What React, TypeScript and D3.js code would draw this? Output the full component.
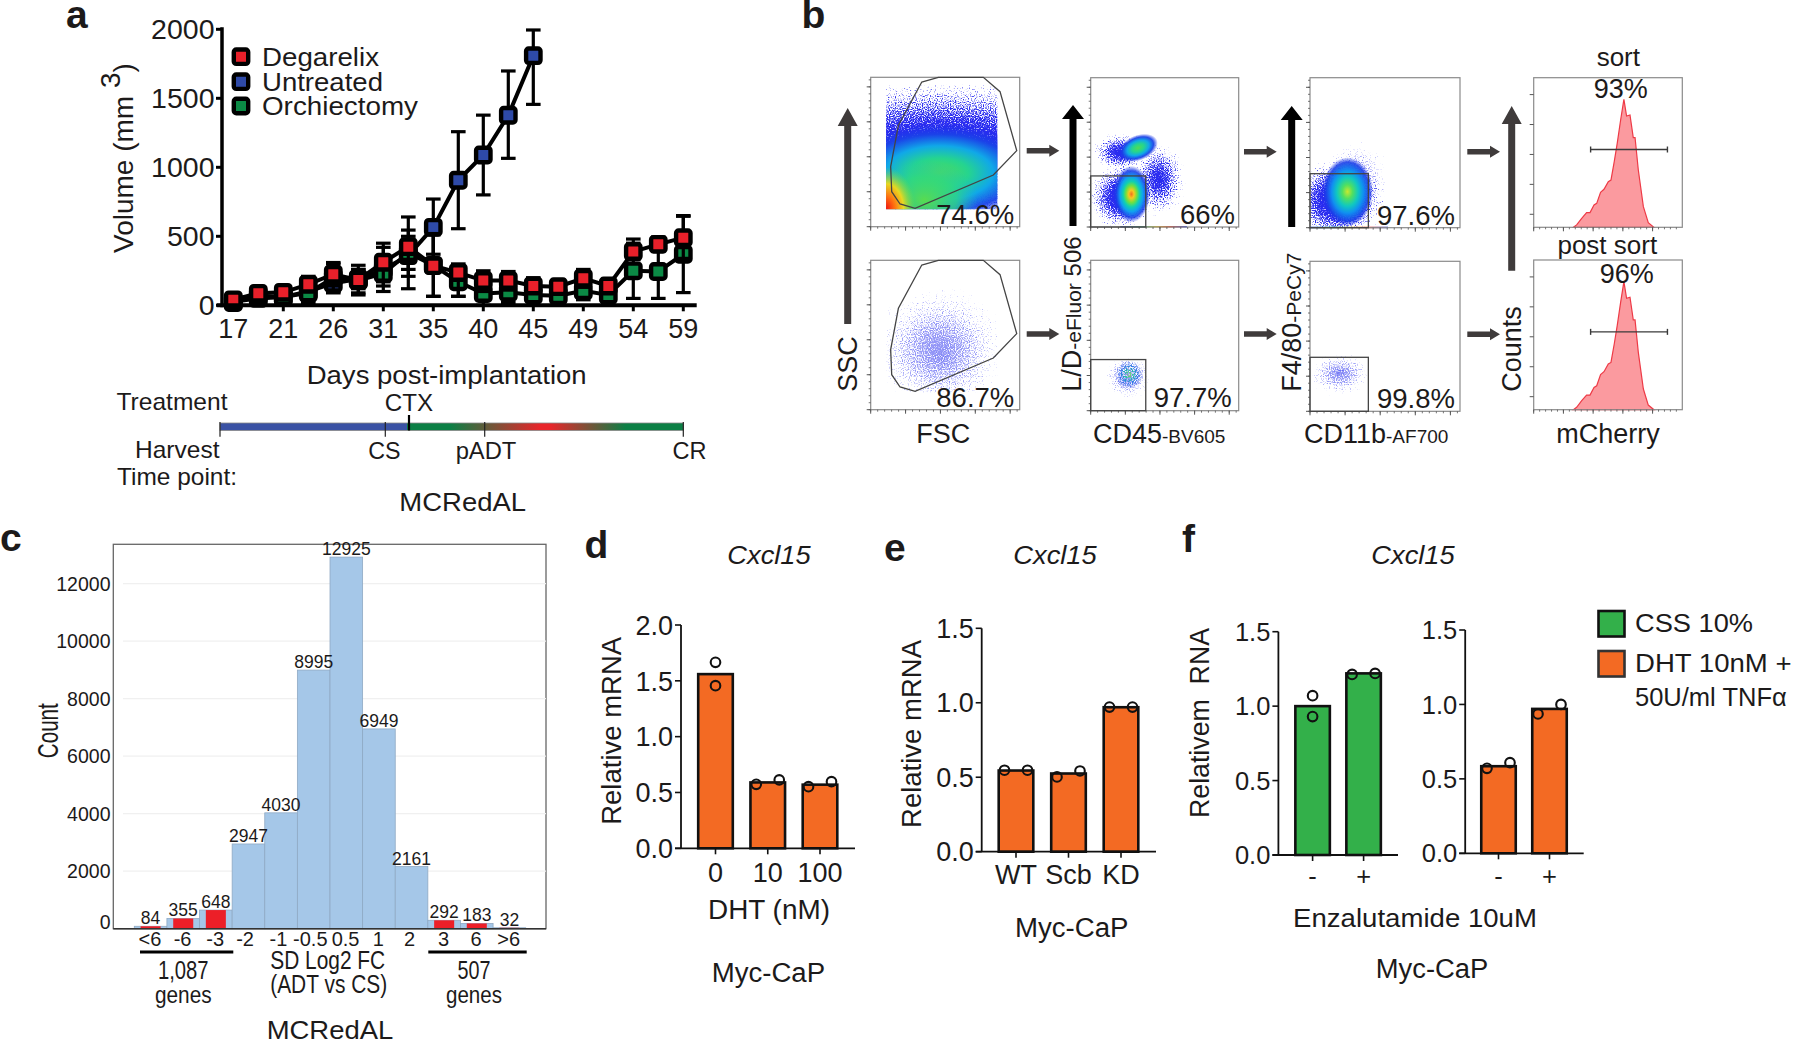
import React from "react";
import * as d3 from "d3";

// ---------- panel a data ----------
const days = [17, 19, 21, 24, 26, 28, 31, 33, 35, 38, 40, 43, 45, 47, 49, 52, 54, 57, 59];
const dayLabels = [17, 21, 26, 31, 35, 40, 45, 49, 54, 59];
const degarelix = [40, 87, 94, 152, 225, 184, 312, 425, 287, 237, 179, 179, 140, 135, 196, 140, 389, 442, 490];
const degarelixLo = [10, 50, 55, 100, 140, 75, 170, 210, 65, 65, 100, 110, 90, 90, 130, 95, 330, 390, 340];
const degarelixHi = [75, 125, 135, 210, 310, 290, 450, 640, 520, 300, 250, 245, 200, 185, 260, 190, 480, 495, 645];
const untreated = [25, 50, 60, 100, 160, 190, 260, 360, 565, 906, 1089, 1377, 1809];
const untreatedLo = [5, 20, 30, 60, 90, 120, 100, 120, 370, 555, 800, 1065, 1456];
const untreatedHi = [50, 80, 90, 140, 230, 260, 420, 545, 770, 1258, 1378, 1698, 1995];
const orchiectomy = [20, 70, 60, 90, 200, 180, 230, 380, 290, 170, 85, 95, 75, 70, 105, 75, 250, 245, 370];
const orchiectomyLo = [0, 40, 0, 20, 100, 90, 140, 260, 65, 65, 0, 20, 0, 0, 40, 20, 50, 50, 92];
const orchiectomyHi = [50, 100, 110, 170, 300, 260, 360, 500, 510, 275, 170, 170, 150, 140, 170, 130, 450, 440, 650];
const volumeTicks = [0, 500, 1000, 1500, 2000];
const legendA = ["Degarelix", "Untreated", "Orchiectomy"];

// ---------- panel b data (axis units 0-100) ----------
const fscGateU = [34.2, 45.4, 75.6, 86.8, 98, 82.3, 29.8, 19.7, 14.1, 13.4, 18.6];
const fscGateV = [96.7, 100, 100, 90.4, 50.9, 34.6, 12.3, 15.2, 23.4, 40.2, 68];
const mcherryBins = [26.7, 28.9, 32.3, 35.6, 37.9, 40.6, 42.4, 45, 47.3, 50.2, 52, 54.2, 56.2, 58.5, 60.7, 62.5, 64.8, 67, 68.2, 70.4, 73.8, 77.1, 80.9];
const mcherryCounts = [0, 1.6, 6, 9.8, 9.8, 14.9, 16, 23.4, 25.4, 30.5, 31.6, 43.9, 56.1, 71.7, 85.5, 74.4, 75.1, 60, 60, 38.3, 13.8, 3.1, 0];

type Blob = { u: number; v: number; rx: number; ry: number; rot: number; kind: string; d: number };
const blobsFsc1: Blob[] = [
  { u: 47, v: 50, rx: 170, ry: 62, rot: 0, kind: "speck", d: 1 },
  { u: 46, v: 36, rx: 66, ry: 33, rot: 0, kind: "green", d: 1 },
  { u: 36, v: 18, rx: 36, ry: 26, rot: 0, kind: "greenSoft", d: 1 },
  { u: 10, v: 12, rx: 20, ry: 28, rot: 0, kind: "corner", d: 1 },
];
const blobsFsc2: Blob[] = [
  { u: 46, v: 40, rx: 62, ry: 58, rot: 0, kind: "thin", d: 0.72 },
  { u: 48, v: 34, rx: 22, ry: 20, rot: 0, kind: "thin", d: 0.4 },
];
const blobsCd1: Blob[] = [
  { u: 46, v: 32, rx: 24, ry: 34, rot: 0, kind: "speck", d: 0.8 },
  { u: 20, v: 50, rx: 25, ry: 17, rot: 0, kind: "speck", d: 0.85 },
  { u: 20, v: 20, rx: 28, ry: 28, rot: 0, kind: "speck", d: 0.95 },
  { u: 32, v: 53, rx: 14, ry: 8.5, rot: -22, kind: "green", d: 1 },
  { u: 27.5, v: 22, rx: 12.5, ry: 19, rot: 0, kind: "hot", d: 1 },
];
const blobsCd2: Blob[] = [
  { u: 25, v: 22, rx: 22, ry: 20, rot: 0, kind: "thin", d: 0.72 },
  { u: 26, v: 24, rx: 9, ry: 9, rot: -30, kind: "warmSoft", d: 1 },
];
const blobsF41: Blob[] = [
  { u: 30, v: 30, rx: 30, ry: 36, rot: 0, kind: "thin", d: 0.75 },
  { u: 18, v: 18, rx: 40, ry: 34, rot: 0, kind: "speck", d: 1 },
  { u: 25, v: 24, rx: 17, ry: 23, rot: 0, kind: "warm", d: 1 },
];
const blobsF42: Blob[] = [
  { u: 20, v: 25, rx: 28, ry: 19, rot: 0, kind: "thin", d: 0.72 },
  { u: 20, v: 26, rx: 9, ry: 5, rot: 0, kind: "thin", d: 0.55 },
];

// ---------- panel c data ----------
const fcLabels = ["<6", "-6", "-3", "-2", "-1", "-0.5", "0.5", "1", "2", "3", "6", ">6"];
const fcCounts = [84, 355, 648, 2947, 4030, 8995, 12925, 6949, 2161, 292, 183, 32];
const fcHighlighted = ["<6", "-6", "-3", "3", "6", ">6"];
const countTicks = [0, 2000, 4000, 6000, 8000, 10000, 12000];

// ---------- panels d-f data ----------
const dhtLabels = ["0", "10", "100"];
const dhtMeans = [1.56, 0.59, 0.57];
const dhtDotsA = [1.666, 0.573, 0.552];
const dhtDotsB = [1.457, 0.612, 0.597];
const dTicks = [0, 0.5, 1, 1.5, 2];
const kdLabels = ["WT", "Scb", "KD"];
const kdMeans = [0.545, 0.525, 0.97];
const kdDotsA = [0.547, 0.502, 0.971];
const kdDotsB = [0.547, 0.542, 0.971];
const rnaTicks = [0, 0.5, 1, 1.5];
const enzLabels = ["-", "+"];
const cssMeans = [1.0, 1.22];
const cssDotsA = [1.07, 1.213];
const cssDotsB = [0.93, 1.22];
const dhtTnfMeans = [0.585, 0.97];
const dhtTnfDotsA = [0.571, 0.936];
const dhtTnfDotsB = [0.609, 1.0];

const FONT = "'Liberation Sans', Arial, sans-serif";
const INK = "#1c1a1a";
const RED = "#e8202a";
const BLUE = "#2e4aa8";
const GREEN = "#0b8a45";
const ORANGE = "#f36a23";
const CSS_GREEN = "#33b04a";
const ARROW = "#3f3b3b";

function T({ x, y, fs, anchor = "start", w, weight, italic, rot, fill = INK, children }: any) {
  return (
    <text
      x={x}
      y={y}
      fontSize={fs}
      fontFamily={FONT}
      textAnchor={anchor}
      fontWeight={weight}
      fontStyle={italic ? "italic" : undefined}
      fill={fill}
      textLength={w}
      lengthAdjust={w ? "spacingAndGlyphs" : undefined}
      transform={rot ? `rotate(${rot} ${x} ${y})` : undefined}
    >
      {children}
    </text>
  );
}

function LineSeries({ x, y, n, vals, lo, hi, color }: any) {
  const line = d3.line<number>().x((_, i) => x(i)!).y((v) => y(v));
  const cap = 7.3;
  return (
    <g>
      {d3.range(n).map((i) => (
        <g key={i} stroke="#000" strokeWidth={3.2} fill="none">
          <line x1={x(i)} x2={x(i)} y1={y(lo[i])} y2={y(hi[i])} />
          <line x1={x(i)! - cap} x2={x(i)! + cap} y1={y(lo[i])} y2={y(lo[i])} />
          <line x1={x(i)! - cap} x2={x(i)! + cap} y1={y(hi[i])} y2={y(hi[i])} />
        </g>
      ))}
      <path d={line(vals)!} fill="none" stroke="#000" strokeWidth={4} />
      {vals.map((v: number, i: number) => (
        <rect key={i} x={x(i)! - 7.2} y={y(v) - 7.2} width={14.4} height={14.4} rx={2.5} fill={color} stroke="#000" strokeWidth={4.4} />
      ))}
    </g>
  );
}

function PanelA() {
  const x = d3.scalePoint<number>().domain(d3.range(days.length)).range([233.3, 683.3]);
  const y = d3.scaleLinear().domain([0, 2000]).range([305.3, 29.3]);
  const legendColors = [RED, BLUE, GREEN];
  const legendY = [56.7, 81.7, 106];
  const legendBase = [65.7, 90.7, 115];
  const legendW = [117, 121, 156];
  const barX = d3.scaleLinear().domain([0, 1]).range([220, 683.3]);
  return (
    <g>
      <T x={66} y={28} fs={39} weight="bold">a</T>
      <LineSeries x={x} y={y} n={untreated.length} vals={untreated} lo={untreatedLo} hi={untreatedHi} color={BLUE} />
      <LineSeries x={x} y={y} n={days.length} vals={orchiectomy} lo={orchiectomyLo} hi={orchiectomyHi} color={GREEN} />
      <LineSeries x={x} y={y} n={days.length} vals={degarelix} lo={degarelixLo} hi={degarelixHi} color={RED} />
      <line x1={222} x2={222} y1={y(2000) - 2} y2={y(0) + 2} stroke="#000" strokeWidth={3.5} />
      <line x1={216.7} x2={696.7} y1={y(0)} y2={y(0)} stroke="#000" strokeWidth={4} />
      {volumeTicks.map((t) => (
        <g key={t}>
          <line x1={216} x2={222} y1={y(t)} y2={y(t)} stroke="#000" strokeWidth={3} />
          <T x={214.5} y={y(t) + 9.5} fs={28.5} anchor="end">{t}</T>
        </g>
      ))}
      {dayLabels.map((d) => {
        const i = days.indexOf(d);
        return (
          <g key={d}>
            <line x1={x(i)} x2={x(i)} y1={y(0)} y2={y(0) + 6} stroke="#000" strokeWidth={3} />
            <T x={x(i)} y={338.3} fs={27} anchor="middle">{d}</T>
          </g>
        );
      })}
      <text transform="translate(133 253) rotate(-90)" fontFamily={FONT} fontSize={28} fill={INK}>
        Volume (mm<tspan dy={-13} fontSize={28}> 3</tspan><tspan dy={13}>)</tspan>
      </text>
      {legendA.map((s, i) => (
        <g key={s}>
          <rect x={241 - 7.2} y={legendY[i] - 7.2} width={14.4} height={14.4} rx={2.5} fill={legendColors[i]} stroke="#000" strokeWidth={4.4} />
          <T x={262} y={legendBase[i]} fs={26} w={legendW[i]}>{s}</T>
        </g>
      ))}
      <T x={446.7} y={384.3} fs={25} anchor="middle" w={280}>Days post-implantation</T>
      <T x={116.5} y={410} fs={24} w={111}>Treatment</T>
      <T x={409} y={411} fs={24} anchor="middle" w={48.3}>CTX</T>
      <defs>
        <linearGradient id="txGrad" x1="0" x2="1" y1="0" y2="0">
          <stop offset={barX.invert(407.3)} stopColor="#3a52a4" />
          <stop offset={barX.invert(407.4)} stopColor="#0b7f45" />
          <stop offset={barX.invert(450)} stopColor="#0b7f45" />
          <stop offset={barX.invert(540)} stopColor="#e8252a" />
          <stop offset={barX.invert(550)} stopColor="#e8252a" />
          <stop offset={barX.invert(626)} stopColor="#0b7f45" />
          <stop offset={1} stopColor="#0b7f45" />
        </linearGradient>
      </defs>
      <rect x={220} y={423} width={463.3} height={7.5} fill="url(#txGrad)" stroke="#888" strokeWidth={0.8} />
      {[220, 385.3, 484.7, 683.3].map((v) => (
        <line key={v} x1={v} x2={v} y1={422} y2={436.7} stroke="#222" strokeWidth={1.2} />
      ))}
      <line x1={409} x2={409} y1={415} y2={430.5} stroke="#000" strokeWidth={2.2} />
      <T x={135} y={457.5} fs={24} w={84.5}>Harvest</T>
      <T x={117} y={485} fs={24} w={120}>Time point:</T>
      <T x={384.3} y={459.3} fs={24} anchor="middle" w={32.3}>CS</T>
      <T x={486} y={459.3} fs={24} anchor="middle" w={60.7}>pADT</T>
      <T x={689.5} y={459.3} fs={24} anchor="middle" w={34}>CR</T>
      <T x={462.7} y={510.7} fs={25} anchor="middle" w={126.7}>MCRedAL</T>
    </g>
  );
}

function Flow({ id, x0, x1, y0, y1, blobs, clipU, gate, rectU, rectV, pct, pctX, pctY, rainbow }: any) {
  const x = d3.scaleLinear().domain([0, 100]).range([x0, x1]);
  const y = d3.scaleLinear().domain([0, 100]).range([y1, y0]);
  const major = d3.range(0, 100, 23.4);
  const minor = d3.range(0, 100, 4.68);
  const tickColor = "#555";
  const clip = clipU || [0, 100, 0, 100];
  const filterOf = (k: string) => (k === "speck" ? "url(#speck)" : k === "thin" ? "url(#speckSoft)" : k === "warmSoft" ? "url(#mott)" : undefined);
  const gradOf = (k: string) => (k === "thin" ? "speck" : k);
  return (
    <g>
      <clipPath id={id}>
        <rect x={x(clip[0])} y={y(clip[3])} width={x(clip[1]) - x(clip[0])} height={y(clip[2]) - y(clip[3])} />
      </clipPath>
      <g clipPath={`url(#${id})`}>
        {blobs.map((b: Blob, i: number) => (
          <g key={i} filter={filterOf(b.kind)}>
            <ellipse
              cx={x(b.u)}
              cy={y(b.v)}
              rx={x(b.rx) - x(0)}
              ry={y(0) - y(b.ry)}
              fill={`url(#grad-${gradOf(b.kind)})`}
              opacity={b.d}
              transform={b.rot ? `rotate(${b.rot} ${x(b.u)} ${y(b.v)})` : undefined}
            />
          </g>
        ))}
      </g>
      {rainbow && <rect x={x(rainbow[0])} y={y(0) - 1} width={x(rainbow[1]) - x(rainbow[0])} height={1.5} fill="url(#rainbow)" />}
      <rect x={x0} y={y0} width={x1 - x0} height={y1 - y0} fill="none" stroke="#8a8a8a" strokeWidth={1.2} />
      {minor.map((t) => (
        <g key={t} stroke={tickColor} strokeWidth={0.8}>
          <line x1={x(t)} x2={x(t)} y1={y1} y2={y1 + 2} />
          <line y1={y(t)} y2={y(t)} x1={x0} x2={x0 - 2} />
        </g>
      ))}
      {major.map((t) => (
        <g key={t} stroke={tickColor} strokeWidth={1}>
          <line x1={x(t)} x2={x(t)} y1={y1} y2={y1 + 4} />
          <line y1={y(t)} y2={y(t)} x1={x0} x2={x0 - 4} />
        </g>
      ))}
      {gate && (
        <polygon
          points={gate[0].map((u: number, i: number) => `${x(u)},${y(gate[1][i])}`).join(" ")}
          fill="none"
          stroke="#444"
          strokeWidth={1.3}
        />
      )}
      {rectU && (
        <rect x={x(0)} y={y(rectV)} width={x(rectU) - x(0)} height={y(0) - y(rectV)} fill="none" stroke="#444" strokeWidth={1.3} />
      )}
      <T x={pctX} y={pctY} fs={27.5} anchor="end">{pct}</T>
    </g>
  );
}

function Hist({ x0, x1, y0, y1 }: any) {
  const x = d3.scaleLinear().domain([0, 100]).range([x0, x1]);
  const y = d3.scaleLinear().domain([0, 100]).range([y1, y0]);
  const area = d3.area<number>().x((_, i) => x(mcherryBins[i])).y0(y(0)).y1((c) => y(c));
  const major = d3.range(0, 100, 20);
  const minor = d3.range(0, 100, 4);
  return (
    <g>
      <path d={area(mcherryCounts)!} fill="#fb9a9f" stroke="#ee3a46" strokeWidth={1.2} />
      <rect x={x0} y={y0} width={x1 - x0} height={y1 - y0} fill="none" stroke="#8a8a8a" strokeWidth={1.2} />
      {minor.map((t) => (
        <line key={t} x1={x(t)} x2={x(t)} y1={y1} y2={y1 + 2} stroke="#555" strokeWidth={0.8} />
      ))}
      {major.map((t) => (
        <g key={t} stroke="#555" strokeWidth={1}>
          <line x1={x(t)} x2={x(t)} y1={y1} y2={y1 + 4} />
          <line y1={y(t + 8.7)} y2={y(t + 8.7)} x1={x0} x2={x0 - 4} />
        </g>
      ))}
      <g stroke="#3a3a3a" strokeWidth={1.4}>
        <line x1={x(38.3)} x2={x(90)} y1={y(52)} y2={y(52)} />
        <line x1={x(38.3)} x2={x(38.3)} y1={y(52) - 3} y2={y(52) + 3} />
        <line x1={x(90)} x2={x(90)} y1={y(52) - 3} y2={y(52) + 3} />
      </g>
    </g>
  );
}

function VArrow({ x, top, bottom, shaft, head, headLen, color }: any) {
  const p = d3.path();
  p.moveTo(x - shaft / 2, bottom);
  p.lineTo(x - shaft / 2, top + headLen);
  p.lineTo(x - head / 2, top + headLen);
  p.lineTo(x, top);
  p.lineTo(x + head / 2, top + headLen);
  p.lineTo(x + shaft / 2, top + headLen);
  p.lineTo(x + shaft / 2, bottom);
  p.closePath();
  return <path d={p.toString()} fill={color} />;
}

function HArrow({ x0, x1, y }: any) {
  const p = d3.path();
  p.moveTo(x0, y - 2.7);
  p.lineTo(x1 - 10, y - 2.7);
  p.lineTo(x1 - 10, y - 6);
  p.lineTo(x1, y);
  p.lineTo(x1 - 10, y + 6);
  p.lineTo(x1 - 10, y + 2.7);
  p.lineTo(x0, y + 2.7);
  p.closePath();
  return <path d={p.toString()} fill={ARROW} />;
}

const gradients: Record<string, [number, string, number][]> = {
  green: [[0, "#4fdc58", 1], [0.3, "#25d490", 1], [0.55, "#10a8e8", 1], [0.78, "#1a44e8", 0.95], [1, "#1a30e8", 0]],
  greenSoft: [[0, "#58dc50", 1], [0.6, "#30d880", 0.75], [1, "#20c0c0", 0]],
  hot: [[0, "#f07020", 1], [0.14, "#f8c820", 1], [0.3, "#70e040", 1], [0.45, "#10d0b0", 1], [0.62, "#10a0f0", 1], [0.82, "#1a40e8", 0.9], [1, "#1a30e8", 0]],
  warm: [[0, "#c8e830", 1], [0.2, "#50e060", 1], [0.42, "#10c8c0", 1], [0.62, "#1090f0", 1], [0.85, "#1a40e8", 0.9], [1, "#1a30e8", 0]],
  warmSoft: [[0, "#a8e050", 1], [0.3, "#20c8a0", 1], [0.65, "#2070e8", 0.9], [1, "#2040e8", 0.2]],
  corner: [[0, "#f01010", 1], [0.3, "#ff7010", 1], [0.6, "#e8d820", 1], [1, "#70e040", 0]],
  speck: [[0, "#000", 1], [1, "#000", 0]],
};

function NoiseMask() {
  return (
    <>
      <feTurbulence type="fractalNoise" baseFrequency="0.85" numOctaves={1} seed={7} result="n" />
      <feColorMatrix in="n" type="matrix" values="0 0 0 0 0  0 0 0 0 0  0 0 0 0 0  0 0 0 1 0" result="na" />
      <feComposite in="SourceAlpha" in2="na" operator="arithmetic" k1={0} k2={0.6} k3={0.6} k4={0} result="sum" />
      <feComponentTransfer in="sum" result="mask">
        <feFuncA type="linear" slope={7} intercept={-3.85} />
      </feComponentTransfer>
    </>
  );
}

function PanelB() {
  const fx0 = 870.7, fx1 = 1019.7, cx0 = 1090.7, cx1 = 1238.7, gx0 = 1310, gx1 = 1460, hx0 = 1533.7, hx1 = 1682.3;
  const sub = 19;
  return (
    <g>
      <defs>
        {Object.entries(gradients).map(([k, stops]) => (
          <radialGradient key={k} id={`grad-${k}`}>
            {stops.map(([o, c, a], i) => (
              <stop key={i} offset={o} stopColor={c} stopOpacity={a} />
            ))}
          </radialGradient>
        ))}
        <linearGradient id="rainbow">
          <stop offset="0" stopColor="#2040e0" />
          <stop offset="0.3" stopColor="#20c0a0" />
          <stop offset="0.55" stopColor="#e8c020" />
          <stop offset="0.75" stopColor="#e84020" />
          <stop offset="1" stopColor="#2040e0" />
        </linearGradient>
        <filter id="speck" x="-5%" y="-5%" width="110%" height="110%" colorInterpolationFilters="sRGB">
          <NoiseMask />
          <feFlood floodColor="#2a2cf0" />
          <feComposite in2="mask" operator="in" />
        </filter>
        <filter id="speckSoft" x="-5%" y="-5%" width="110%" height="110%" colorInterpolationFilters="sRGB">
          <NoiseMask />
          <feFlood floodColor="#3a40f0" floodOpacity={0.55} />
          <feComposite in2="mask" operator="in" />
        </filter>
        <filter id="mott" x="-5%" y="-5%" width="110%" height="110%" colorInterpolationFilters="sRGB">
          <feTurbulence type="fractalNoise" baseFrequency="0.8" numOctaves={1} seed={11} result="n" />
          <feColorMatrix in="n" type="matrix" values="0 0 0 0 0  0 0 0 0 0  0 0 0 0 0  0 0 0 6 -2.6" result="m" />
          <feComposite in="SourceGraphic" in2="m" operator="in" />
        </filter>
      </defs>
      <T x={801.5} y={28.3} fs={39} weight="bold">b</T>
      <Flow id="f1" x0={fx0} x1={fx1} y0={77.3} y1={226.7} blobs={blobsFsc1} clipU={[10.3, 85, 11.6, 95]} gate={[fscGateU, fscGateV]} pct="74.6%" pctX={1014.3} pctY={224} />
      <Flow id="f2" x0={fx0} x1={fx1} y0={260.3} y1={409.7} blobs={blobsFsc2} clipU={[10.3, 85, 11.6, 95]} gate={[fscGateU, fscGateV]} pct="86.7%" pctX={1014.3} pctY={407.3} />
      <Flow id="c1" x0={cx0} x1={cx1} y0={77.7} y1={227} blobs={blobsCd1} rectU={37.2} rectV={34.2} rainbow={[20, 65]} pct="66%" pctX={1235} pctY={224} />
      <Flow id="c2" x0={cx0} x1={cx1} y0={260.3} y1={410.7} blobs={blobsCd2} rectU={37.2} rectV={34} pct="97.7%" pctX={1231.7} pctY={407.3} />
      <Flow id="g1" x0={gx0} x1={gx1} y0={77.7} y1={227.7} blobs={blobsF41} rectU={38.9} rectV={36} rainbow={[0, 52]} pct="97.6%" pctX={1455} pctY={225} />
      <Flow id="g2" x0={gx0} x1={gx1} y0={261.3} y1={411.3} blobs={blobsF42} rectU={38.9} rectV={36} pct="99.8%" pctX={1455} pctY={408.3} />
      <Hist x0={hx0} x1={hx1} y0={77.7} y1={227.3} />
      <Hist x0={hx0} x1={hx1} y0={260} y1={409.7} />

      <VArrow x={847.7} top={108} bottom={324} shaft={7} head={20} headLen={18} color={ARROW} />
      <VArrow x={1073} top={105} bottom={226} shaft={7} head={22} headLen={14} color="#000" />
      <VArrow x={1291.7} top={106} bottom={227} shaft={7} head={22} headLen={14} color="#000" />
      <VArrow x={1511.7} top={106} bottom={270.7} shaft={7} head={20} headLen={18} color={ARROW} />
      {[[1026.7, 1059.3, 150.7], [1026.7, 1059.3, 334], [1244, 1276.7, 151.7], [1244, 1276.7, 334], [1467.3, 1500, 151.7], [1467.3, 1500, 334.3]].map(([a, b, c]) => (
        <HArrow key={`${a}-${c}`} x0={a} x1={b} y={c} />
      ))}

      <T x={857} y={391.7} fs={27} rot={-90}>SSC</T>
      <T x={943.3} y={443.3} fs={27} anchor="middle">FSC</T>
      <text transform="translate(1081 391.7) rotate(-90)" fontFamily={FONT} fontSize={27} fill={INK}>
        L/D<tspan fontSize={sub + 2}>-eFluor</tspan><tspan fontSize={24}> 506</tspan>
      </text>
      <T x={1093} y={443.3} fs={27}>CD45<tspan fontSize={sub}>-BV605</tspan></T>
      <text transform="translate(1300.7 391.7) rotate(-90)" fontFamily={FONT} fontSize={27} fill={INK}>
        F4/80<tspan fontSize={sub + 2}>-PeCy7</tspan>
      </text>
      <T x={1304} y={443.3} fs={27}>CD11b<tspan fontSize={sub}>-AF700</tspan></T>
      <T x={1608} y={443.3} fs={27} anchor="middle">mCherry</T>
      <T x={1520.7} y={391.7} fs={27} rot={-90}>Counts</T>
      <T x={1618.3} y={66} fs={26} anchor="middle">sort</T>
      <T x={1620.7} y={98.3} fs={27} anchor="middle">93%</T>
      <T x={1607.3} y={254} fs={26} anchor="middle">post sort</T>
      <T x={1626.7} y={283.3} fs={27} anchor="middle">96%</T>
    </g>
  );
}

function PanelC() {
  const x = d3.scaleBand<string>().domain(fcLabels).range([134.3, 525.7]).padding(0);
  const y = d3.scaleLinear().domain([0, 12000]).range([928.7, 583.7]);
  const red = (l: string) => fcHighlighted.includes(l);
  const nudge: Record<string, number> = { "-2": -2.7, "-1": -2, "-0.5": -2.7, "2": -1.3 };
  return (
    <g>
      <T x={0} y={550.7} fs={39} weight="bold">c</T>
      <rect x={113.3} y={544.3} width={432.7} height={384.4} fill="#fff" stroke="#666" strokeWidth={1.3} />
      {countTicks.slice(1).map((t) => (
        <line key={t} x1={123} x2={546} y1={y(t)} y2={y(t)} stroke="#f0f0f0" strokeWidth={1.2} />
      ))}
      {fcLabels.map((l, i) => (
        <rect key={l} x={x(l)} y={y(fcCounts[i])} width={x.bandwidth()} height={y(0) - y(fcCounts[i])} fill="#a5c7e8" stroke="#8fa9c4" strokeWidth={0.8} />
      ))}
      {fcLabels.map((l, i) =>
        red(l) ? (
          <rect key={l} x={x(l)! + 6.3} y={y(fcCounts[i])} width={x.bandwidth() - 12.6} height={y(0) - y(fcCounts[i])} fill="#ec1f28" />
        ) : null
      )}
      <line x1={113.3} x2={546} y1={928.7} y2={928.7} stroke="#333" strokeWidth={1.5} />
      {fcLabels.map((l, i) => (
        <T key={l} x={x(l)! + x.bandwidth() / 2} y={y(fcCounts[i]) - 2} fs={17.5} anchor="middle">{fcCounts[i]}</T>
      ))}
      {countTicks.map((t) => (
        <T key={t} x={110.5} y={t === 0 ? y(t) : y(t) + 7} fs={19.5} anchor="end">{t}</T>
      ))}
      <T x={58} y={730.7} fs={29} anchor="middle" rot={-90} w={55}>Count</T>
      {fcLabels.map((l) => (
        <T key={l} x={x(l)! + x.bandwidth() / 2 - 0.7 + (nudge[l] || 0)} y={945.7} fs={20} anchor="middle">{l}</T>
      ))}
      <line x1={140} x2={233.3} y1={952} y2={952} stroke="#000" strokeWidth={3} />
      <line x1={428.3} x2={526.7} y1={952} y2={952} stroke="#000" strokeWidth={3} />
      <T x={183.3} y={979.3} fs={25} anchor="middle" w={50.7}>1,087</T>
      <T x={183.3} y={1003} fs={24.5} anchor="middle" w={56.7}>genes</T>
      <T x={474} y={979.3} fs={25} anchor="middle" w={33}>507</T>
      <T x={474} y={1003} fs={24.5} anchor="middle" w={56}>genes</T>
      <T x={327.7} y={969.3} fs={25} anchor="middle" w={115}>SD Log2 FC</T>
      <T x={328.7} y={993.3} fs={25} anchor="middle" w={117}>(ADT vs CS)</T>
      <T x={330} y={1038.5} fs={25} anchor="middle" w={126.7}>MCRedAL</T>
    </g>
  );
}

function BarPanel({ axisX, axisEnd, yTop, yBase, max, ticks, first, last, labels, means, dotsA, dotsB, fill, fs, labelBase, labelOffset, bw }: any) {
  const y = d3.scaleLinear().domain([0, max]).range([yBase, yTop]);
  const x = d3.scalePoint<string>().domain(labels).range([first, last]);
  const cx = (l: string) => x(l)!;
  return (
    <g>
      {labels.map((l: string, i: number) => (
        <rect key={l} x={cx(l) - bw / 2} y={y(means[i])} width={bw} height={yBase - y(means[i])} fill={fill} stroke="#111" strokeWidth={2.6} />
      ))}
      {labels.map((l: string, i: number) => {
        const spread = Math.abs(y(dotsA[i]) - y(dotsB[i])) > 15 ? 0 : 11.5;
        return (
          <g key={l} fill="none" stroke="#111" strokeWidth={2.1}>
            <circle cx={cx(l) - spread} cy={y(dotsA[i])} r={4.8} />
            <circle cx={cx(l) + spread} cy={y(dotsB[i])} r={4.8} />
          </g>
        );
      })}
      <line x1={axisX} x2={axisX} y1={yTop} y2={yBase} stroke="#111" strokeWidth={1.8} />
      <line x1={axisX - 6} x2={axisEnd} y1={yBase} y2={yBase} stroke="#111" strokeWidth={1.8} />
      {ticks.map((t: number) => (
        <g key={t}>
          <line x1={axisX - 6} x2={axisX} y1={y(t)} y2={y(t)} stroke="#111" strokeWidth={1.6} />
          <T x={axisX - 8} y={y(t) + fs * 0.36} fs={fs} anchor="end">{t.toFixed(1)}</T>
        </g>
      ))}
      {labels.map((l: string) => (
        <g key={l}>
          <line x1={cx(l)} x2={cx(l)} y1={yBase} y2={yBase + 6} stroke="#111" strokeWidth={1.6} />
          <T x={cx(l) + labelOffset} y={labelBase} fs={fs} anchor="middle">{l}</T>
        </g>
      ))}
    </g>
  );
}

function PanelsDEF() {
  return (
    <g>
      <T x={584.6} y={558} fs={39} weight="bold">d</T>
      <T x={769} y={564} fs={26.5} anchor="middle" italic w={83.5}>Cxcl15</T>
      <BarPanel axisX={681} axisEnd={855} yTop={625} yBase={848.3} max={2} ticks={dTicks} first={715.5} last={820} bw={34.6} labels={dhtLabels} means={dhtMeans} dotsA={dhtDotsA} dotsB={dhtDotsB} fill={ORANGE} fs={27} labelBase={881.7} labelOffset={0} />
      <T x={621} y={730.8} fs={27.5} anchor="middle" rot={-90}>Relative mRNA</T>
      <T x={769} y={919} fs={27} anchor="middle" w={122}>DHT (nM)</T>
      <T x={768.4} y={981.7} fs={27} anchor="middle" w={113.5}>Myc-CaP</T>

      <T x={884} y={560.7} fs={39} weight="bold">e</T>
      <T x={1055} y={564} fs={26.5} anchor="middle" italic w={83.5}>Cxcl15</T>
      <BarPanel axisX={981.7} axisEnd={1156} yTop={628.3} yBase={851.7} max={1.5} ticks={rnaTicks} first={1016} last={1121} bw={34.6} labels={kdLabels} means={kdMeans} dotsA={kdDotsA} dotsB={kdDotsB} fill={ORANGE} fs={27} labelBase={884} labelOffset={0} />
      <T x={921} y={734} fs={27.5} anchor="middle" rot={-90}>Relative mRNA</T>
      <T x={1071.7} y={936.7} fs={27} anchor="middle" w={113.5}>Myc-CaP</T>

      <T x={1182} y={551.7} fs={39} weight="bold">f</T>
      <T x={1413} y={564} fs={26.5} anchor="middle" italic w={83.5}>Cxcl15</T>
      <BarPanel axisX={1278.4} axisEnd={1398} yTop={631.7} yBase={855} max={1.5} ticks={rnaTicks} first={1312.6} last={1363.6} bw={34.5} labels={enzLabels} means={cssMeans} dotsA={cssDotsA} dotsB={cssDotsB} fill={CSS_GREEN} fs={25.5} labelBase={885} labelOffset={0} />
      <BarPanel axisX={1465.2} axisEnd={1583.7} yTop={630} yBase={853.3} max={1.5} ticks={rnaTicks} first={1498.5} last={1549.5} bw={34.5} labels={enzLabels} means={dhtTnfMeans} dotsA={dhtTnfDotsA} dotsB={dhtTnfDotsB} fill={ORANGE} fs={25.5} labelBase={885} labelOffset={0} />
      <T x={1209} y={723} fs={27} anchor="middle" rot={-90} w={190}>{"Relativem\u00a0\u00a0RNA"}</T>
      <T x={1415} y={926.7} fs={26} anchor="middle" w={243.8}>Enzalutamide 10uM</T>
      <T x={1432} y={978} fs={27} anchor="middle" w={112.5}>Myc-CaP</T>

      <rect x={1598.5} y={611} width={26} height={25.5} fill={CSS_GREEN} stroke="#111" strokeWidth={2.6} />
      <rect x={1598.5} y={651} width={26} height={25.5} fill={ORANGE} stroke="#333" strokeWidth={2.6} />
      <T x={1635} y={632.3} fs={25.5} w={118}>CSS 10%</T>
      <T x={1635} y={671.7} fs={25.5} w={156.6}>DHT 10nM +</T>
      <T x={1635} y={705.7} fs={25.5}>50U/ml TNFα</T>
    </g>
  );
}

export default function App() {
  return (
    <svg width={1800} height={1044} viewBox="0 0 1800 1044" style={{ position: "absolute", left: 0, top: 0, display: "block", background: "#fff" }}>
      <PanelA />
      <PanelB />
      <PanelC />
      <PanelsDEF />
    </svg>
  );
}
